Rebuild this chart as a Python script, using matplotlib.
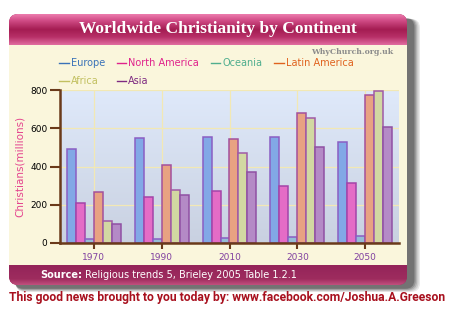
import numpy as np
import matplotlib
matplotlib.use("Agg")
import matplotlib.pyplot as plt
from matplotlib.patches import FancyBboxPatch, Rectangle
from matplotlib.lines import Line2D
from matplotlib.colors import LinearSegmentedColormap

# ---- data ----
years = ["1970", "1990", "2010", "2030", "2050"]
series = ["Europe", "North America", "Oceania", "Latin America", "Africa", "Asia"]
europe = [491, 551, 555, 555, 527]
north_america = [211, 242, 272, 300, 314]
oceania = [19, 22, 28, 33, 38]
latin_america = [268, 408, 544, 682, 776]
africa = [117, 279, 472, 656, 795]
asia = [101, 251, 373, 504, 607]
values = [europe, north_america, oceania, latin_america, africa, asia]
yticks = [0, 200, 400, 600, 800]

fill_colors = ["#82a8e6", "#e46cc6", "#94bcd6", "#e8a282", "#d2d8a2", "#b48ac6"]
edge_colors = ["#8a5ec4", "#a444a8", "#8a5ec4", "#a4509c", "#a05aa6", "#9050a4"]
legend_colors = ["#3a72b8", "#e0228c", "#4fae8e", "#e0621e", "#c2c060", "#7e2a82"]

W, H = 450, 311
fig = plt.figure(figsize=(W / 100, H / 100), dpi=100)
fig.patch.set_facecolor("white")

bg = fig.add_axes([0, 0, 1, 1])
bg.set_xlim(0, W)
bg.set_ylim(H, 0)
bg.axis("off")

# shadow
for k, a in enumerate([0.10, 0.13, 0.17, 0.22, 0.3]):
    off = 5 - k
    sh = FancyBboxPatch((9 + 5 + off * 0.4, 14 + 4 + off * 0.2), 399 + off, 270 + off * 0.6,
                        boxstyle="round,pad=0,rounding_size=9",
                        fc="#282828", ec="none", alpha=a, zorder=1)
    bg.add_patch(sh)

card = FancyBboxPatch((9, 14), 398, 271, boxstyle="round,pad=0,rounding_size=9",
                      fc="#9c2a5c", ec="none", zorder=2)
bg.add_patch(card)

tcmap = LinearSegmentedColormap.from_list(
    "t", [(0, "#ec7cae"), (0.18, "#d4508a"), (0.5, "#a41c52"), (0.75, "#b83068"), (1, "#e06ca0")])
grad = np.linspace(0, 1, 64).reshape(-1, 1)
im = bg.imshow(grad, cmap=tcmap, extent=(9, 407, 45, 14), aspect="auto", zorder=3,
               interpolation="bilinear")
im.set_clip_path(card)

bg.add_patch(Rectangle((9, 45), 398, 220, fc="#faf6dc", ec="none", zorder=3))

fcmap = LinearSegmentedColormap.from_list("f", [(0, "#94245a"), (0.7, "#9e2c5e"), (1, "#c0507e")])
im2 = bg.imshow(grad, cmap=fcmap, extent=(9, 407, 285, 265), aspect="auto", zorder=3,
                interpolation="bilinear")
im2.set_clip_path(card)

bg.text(218, 29, "Worldwide Christianity by Continent", color="white", fontsize=12.5,
        fontweight="bold", family="Liberation Serif", ha="center", va="center", zorder=5)
bg.text(393, 52, "WhyChurch.org.uk", color="#8c8c8c", fontsize=5.6, fontweight="bold",
        family="DejaVu Serif", ha="right", va="center", zorder=5)

t1 = bg.text(40, 275, "Source:", color="white", fontsize=7, fontweight="bold",
             ha="left", va="center", zorder=5)
fig.canvas.draw()
ext = t1.get_window_extent(renderer=fig.canvas.get_renderer())
bg.text(ext.x1 + 3, 275, "Religious trends 5, Brieley 2005 Table 1.2.1", color="white",
        fontsize=7, ha="left", va="center", zorder=5)

bt = bg.text(227, 298, "This good news brought to you today by: www.facebook.com/Joshua.A.Greeson",
             color="#a8101e", fontsize=9, fontweight="bold",
             family=["Roboto", "DejaVu Sans"], ha="center", va="center", zorder=5)
fig.canvas.draw()
bext = bt.get_window_extent(renderer=fig.canvas.get_renderer())
bt.set_fontsize(9 * 438 / bext.width)

# ---- main axes ----
ax = fig.add_axes([60 / W, 1 - 243 / H, 339 / W, 153 / H])
ax.set_xlim(-0.5, 4.5)
ax.set_ylim(0, 800)
ax.set_facecolor("none")
gcmap = LinearSegmentedColormap.from_list("g", ["#c9d1e1", "#dfe9fa"])
ax.imshow(np.linspace(0, 1, 64).reshape(-1, 1), cmap=gcmap, origin="lower",
          extent=(0, 1, 0, 1), transform=ax.transAxes, aspect="auto", zorder=0)

x = np.arange(len(years))
w = 0.132
for j, (name, vals) in enumerate(zip(series, values)):
    ax.bar(x + (j - 2.5) * w, vals, width=w, color=fill_colors[j], edgecolor=edge_colors[j],
           linewidth=1.1, zorder=3, label=name)

ax.set_xticks(x)
ax.set_xticklabels(years)
ax.set_yticks(yticks)
ax.grid(True, color="#f2e8b4", linewidth=0.9, zorder=1)
ax.set_axisbelow(True)
for s in ["top", "right"]:
    ax.spines[s].set_visible(False)
for s in ["left", "bottom"]:
    ax.spines[s].set_color("#6a3a1a")
    ax.spines[s].set_linewidth(1.8)
    ax.spines[s].set_zorder(4)
ax.tick_params(axis="y", length=7, width=1.5, color="#6a3a1a", labelsize=6.5,
               labelcolor="black", pad=2)
ax.tick_params(axis="x", length=4, width=1.5, color="#6a3a1a", labelsize=6.5,
               labelcolor="#8040a0", pad=3)
ax.set_ylabel("Christians(millions)", color="#e4448e", fontsize=7.5, labelpad=4)

handles = [Line2D([0], [0], color=c, lw=1) for c in legend_colors]
order = [0, 4, 1, 5, 2, 3]
leg = fig.legend([handles[i] for i in order], [series[i] for i in order],
                 loc="upper left", bbox_to_anchor=(59 / W, 1 - 58 / H), ncol=4,
                 frameon=False, fontsize=7, handlelength=1.0, handletextpad=0.2,
                 columnspacing=1.2, labelspacing=0.85, borderaxespad=0, borderpad=0)
for txt, i in zip(leg.get_texts(), order):
    txt.set_color(legend_colors[i])

fig.savefig("out.png", dpi=100, facecolor="white")
